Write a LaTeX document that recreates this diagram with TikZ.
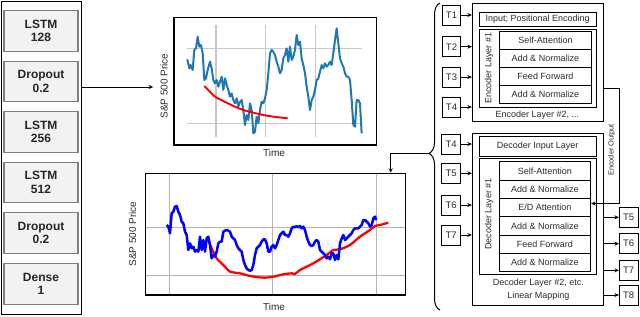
\documentclass[tikz,border=0pt]{standalone}
\usepackage{fontspec}
\setmainfont{Liberation Sans}
\usetikzlibrary{arrows.meta,decorations.pathreplacing}
\definecolor{lfill}{HTML}{F2F2F2}
\definecolor{lborder}{HTML}{7F7F7F}
\definecolor{ltext}{HTML}{262626}
\definecolor{rtext}{HTML}{2A2A2A}
\definecolor{mplblue}{HTML}{1F77B4}
\definecolor{grid1}{HTML}{C8C8C8}
\definecolor{grid2}{HTML}{B4B4B4}
\begin{document}
\begin{tikzpicture}[x=1pt,y=-1pt,
  arr/.style={-{Stealth[length=4.5pt,width=4pt]}, line width=0.8pt},
  lbox/.style={draw=lborder, line width=1.4pt, fill=lfill, minimum width=74pt, minimum height=40.5pt,
    inner sep=0pt, align=center, text=ltext, font=\bfseries\fontsize{12}{13.5}\selectfont},
  rbox/.style={draw, line width=0.8pt, inner sep=0pt, text=rtext, font=\fontsize{9}{10}\selectfont},
  tbox/.style={draw, line width=0.8pt, inner sep=0pt, minimum width=18.7pt, minimum height=20pt,
    text=rtext, font=\fontsize{9.5}{10}\selectfont},
  rlabel/.style={inner sep=0pt, text=rtext, font=\fontsize{9}{10}\selectfont},
  clabel/.style={inner sep=0pt, text=rtext, font=\fontsize{10}{11}\selectfont},
  chartframe/.style={draw, line width=1.2pt, inner sep=0pt}
]
\useasboundingbox (0,0) rectangle (640,316);

% ---------------- left panel ----------------
\node[draw, line width=0.9pt, minimum width=80.7pt, minimum height=313.3pt, inner sep=0pt] (lpanel) at (41.3,157.7) {};
\node[lbox] (l1) at (41,31)    {LSTM\\128};
\node[lbox] (l2) at (41,81.5)  {Dropout\\0.2};
\node[lbox] (l3) at (41,132)   {LSTM\\256};
\node[lbox] (l4) at (41,182.5) {LSTM\\512};
\node[lbox] (l5) at (41,233)   {Dropout\\0.2};
\node[lbox] (l6) at (41,284)   {Dense\\1};

% ---------------- top chart ----------------
\draw[grid1, line width=1.2pt] (216,25) -- (216,136.7) (265.7,25) -- (265.7,136.7) (315.7,25) -- (315.7,136.7)
  (187,48.3) -- (362,48.3) (187,123.3) -- (362,123.3);
\begin{scope}[xshift=100pt, scale=1/3]
\draw[mplblue, line width=2pt, line join=round] plot coordinates {
(262,178) (268,205) (272,195) (278,210) (283,150) (288,145) (293,110) (298,140) (303,135) (308,160)
(313,240) (318,235) (323,210) (330,185) (335,205) (340,240) (345,250) (350,240) (355,260) (360,245)
(365,230) (370,270) (375,235) (380,255) (385,270) (390,290) (395,280) (400,300) (405,310) (410,295)
(415,320) (420,305) (425,300) (430,330) (435,375) (440,345) (445,360) (450,310) (455,330) (460,400)
(465,395) (470,350) (475,370) (480,330) (485,305) (490,310) (495,295) (500,270) (505,220) (510,160)
(515,150) (520,155) (525,165) (530,185) (535,200) (540,220) (545,210) (550,175) (555,165) (560,145)
(565,185) (570,140) (575,180) (580,170) (585,150) (590,105) (595,135) (600,125) (605,175) (610,195)
(615,220) (620,260) (625,290) (630,330) (635,300) (640,290) (645,270) (650,240) (655,235) (660,215)
(665,195) (670,205) (675,190) (680,200) (685,195) (690,185) (695,195) (700,160) (705,120) (710,85)
(715,130) (720,175) (725,190) (730,200) (735,220) (740,230) (745,230) (750,240) (755,300) (760,375)
(765,380) (770,300) (775,300) (780,310) (785,400)};
\draw[red, line width=1.9pt] plot[smooth] coordinates {
(313,258) (330,275) (345,290) (370,303) (400,318) (430,330) (460,338) (490,345) (520,350) (563,355)};
\end{scope}
\node[chartframe, minimum width=202.7pt, minimum height=127.7pt] (chart1) at (275.35,81.15) {};
\node[clabel, rotate=90] (ylab1) at (164,86) {S\&P 500 Price};
\node[clabel] (xlab1) at (274,153) {Time};
\draw[arr] (lpanel.east |- 0,87) -- ([xshift=-7pt]ylab1.north |- 0,87);

% ---------------- bottom chart ----------------
\draw[grid2, line width=1pt] (169,173.3) -- (169,295) (272,173.3) -- (272,295) (376.7,173.3) -- (376.7,295)
  (145.7,227.3) -- (405.7,227.3) (145.7,275.7) -- (405.7,275.7);
\begin{scope}[xshift=140pt, yshift=-170pt, scale=1/3]
\draw[red, line width=2.3pt, line join=round] plot[smooth, tension=0.4] coordinates {
(205,210) (215,235) (230,265) (250,285) (270,305) (300,310) (330,318) (360,322) (375,323) (400,320)
(430,313) (455,310) (465,312) (480,300) (520,280) (560,255) (580,240) (600,238) (630,225) (660,200)
(690,180) (705,168) (720,165) (745,158)};
\draw[blue, line width=2.5pt, line join=round] plot coordinates {
(80,165) (85,170) (90,190) (95,130) (100,125) (105,110) (110,108) (115,125) (120,135) (125,155)
(130,160) (135,185) (140,195) (145,240) (150,220) (155,235) (160,230) (165,245) (170,240) (175,245)
(180,200) (185,240) (190,210) (195,245) (200,205) (205,200) (210,225) (215,265) (220,255) (225,260)
(230,245) (235,220) (240,215) (245,215) (250,185) (255,182) (260,180) (265,182) (270,185) (275,200)
(280,205) (285,210) (290,225) (295,235) (300,240) (305,245) (310,270) (315,285) (320,295) (325,300)
(330,302) (335,300) (340,285) (345,255) (350,235) (355,230) (360,225) (365,215) (370,208) (375,208)
(380,220) (385,245) (390,245) (395,230) (400,225) (405,235) (410,225) (415,210) (420,195) (425,190)
(430,185) (435,195) (440,195) (445,200) (450,190) (455,175) (460,170) (465,172) (470,168) (475,172)
(480,168) (485,175) (490,170) (495,180) (500,200) (505,215) (510,225) (515,228) (520,225) (525,215)
(530,210) (535,215) (540,240) (545,245) (550,250) (555,255) (560,265) (565,260) (570,268) (575,250)
(580,250) (585,270) (590,255) (595,268) (600,220) (605,205) (610,195) (615,210) (620,205) (625,200)
(630,195) (635,190) (640,180) (645,175) (650,175) (655,175) (660,170) (665,165) (670,150) (675,150)
(680,155) (685,160) (690,170) (695,165) (700,145) (705,140) (708,150)};
\end{scope}
\node[chartframe, minimum width=260pt, minimum height=121.7pt] (chart2) at (275.7,234.15) {};
\node[clabel, rotate=90] (ylab2) at (132.5,234) {S\&P 500 Price};
\node[clabel] (xlab2) at (274,306.5) {Time};

% ---------------- brace and connector ----------------
\draw[decorate, decoration={brace, amplitude=11pt, aspect=0.51}, line width=1pt] (440,310) -- (440,3);
\coordinate (bt) at (429.5,153.3);
\coordinate (bc) at (390.7,153.3);
\draw[arr] (bt) -- (bc) -- (bc |- chart2.north);

% ---------------- encoder ----------------
\node[rbox, minimum width=131.4pt, minimum height=118.4pt] (enc) at (538,62.5) {};
\node[rbox, minimum width=116.7pt, minimum height=13.3pt] (inp) at (537.65,19.35) {Input; Positional Encoding};
\node[rbox, minimum width=116.7pt, minimum height=78.3pt] (el1) at (537.65,68.15) {};
\node[rbox, minimum width=92.4pt, minimum height=18.07pt] (es1) at (545.5,40.0) {Self-Attention};
\node[rbox, minimum width=92.4pt, minimum height=18.07pt] (es2) at (545.5,58.1) {Add \& Normalize};
\node[rbox, minimum width=92.4pt, minimum height=18.07pt] (es3) at (545.5,76.2) {Feed Forward};
\node[rbox, minimum width=92.4pt, minimum height=18.07pt] (es4) at (545.5,94.3) {Add \& Normalize};
\node[rlabel, rotate=90] (elab1) at (489,68) {Encoder Layer \#1};
\node[rlabel] (elab2) at (537.3,115.5) {Encoder Layer \#2, ...};

\node[tbox] (ti1) at (451.5,15)  {T1};
\node[tbox] (ti2) at (451.5,46.7) {T2};
\node[tbox] (ti3) at (451.5,77)  {T3};
\node[tbox] (ti4) at (451.5,107) {T4};
\foreach \t in {ti1,ti2,ti3,ti4} \draw[arr] (\t.east) -- (enc.west |- \t);

% ---------------- decoder ----------------
\node[rbox, minimum width=131.4pt, minimum height=171.7pt] (dec) at (538,219.15) {};
\node[rbox, minimum width=116.7pt, minimum height=19.3pt] (dinp) at (537.65,146.35) {Decoder Input Layer};
\node[rbox, minimum width=116.7pt, minimum height=115.7pt] (dl1) at (537.65,216.15) {};
\node[rbox, minimum width=91.7pt, minimum height=18.33pt] (ds1) at (544.85,170.87) {Self-Attention};
\node[rbox, minimum width=91.7pt, minimum height=18.33pt] (ds2) at (544.85,189.2) {Add \& Normalize};
\node[rbox, minimum width=91.7pt, minimum height=18.33pt] (ds3) at (544.85,207.53) {E/D Attention};
\node[rbox, minimum width=91.7pt, minimum height=18.33pt] (ds4) at (544.85,225.86) {Add \& Normalize};
\node[rbox, minimum width=91.7pt, minimum height=18.33pt] (ds5) at (544.85,244.19) {Feed Forward};
\node[rbox, minimum width=91.7pt, minimum height=18.33pt] (ds6) at (544.85,262.52) {Add \& Normalize};
\node[rlabel, rotate=90] (dlab1) at (489,214) {Decoder Layer \#1};
\node[rlabel] (dlab2) at (538.3,283.3) {Decoder Layer \#2, etc.};
\node[rlabel] (dlab3) at (538.3,295.7) {Linear Mapping};

\node[tbox] (td4) at (451.2,144)   {T4};
\node[tbox] (td5) at (451.2,173.3) {T5};
\node[tbox] (td6) at (451.2,205)   {T6};
\node[tbox] (td7) at (451.2,235)   {T7};
\foreach \t in {td4,td5,td6,td7} \draw[arr] (\t.east) -- (dec.west |- \t);

\node[tbox] (to5) at (628.7,217.3) {T5};
\node[tbox] (to6) at (628.7,243.7) {T6};
\node[tbox] (to7) at (628.7,270.3) {T7};
\node[tbox] (to8) at (628.7,295)   {T8};
\foreach \t in {to5,to6,to7,to8} \draw[arr] (dec.east |- \t) -- (\t.west);

% ---------------- encoder output ----------------
\coordinate (eoA) at (619.3,88.5);
\coordinate (eoB) at (619.3,203.5);
\draw[arr] (enc.east |- eoA) -- (eoA) -- (eoB) -- (ds3.east |- eoB);
\node[inner sep=0pt, text=rtext, font=\fontsize{7.4}{8}\selectfont, rotate=90] (eolab) at (611.7,150) {Encoder Output};
\end{tikzpicture}
\end{document}
